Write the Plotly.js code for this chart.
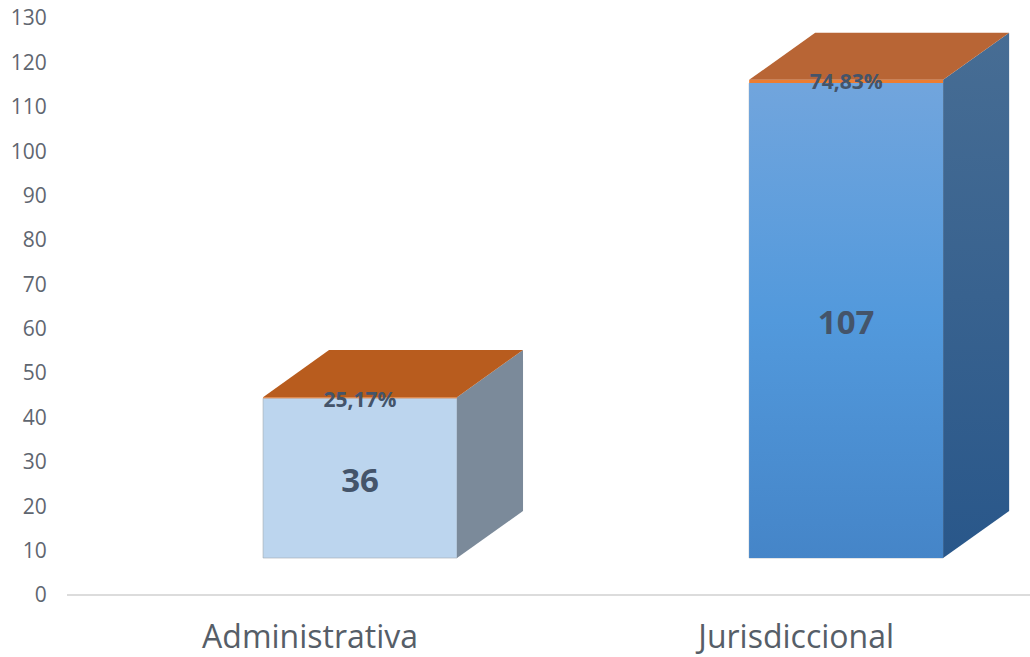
<!DOCTYPE html>
<html><head><meta charset="utf-8">
<script src="https://cdn.plot.ly/plotly-3.0.1.min.js"></script>
<style>html,body{margin:0;padding:0;background:#fff}#c{width:1030px;height:657px}</style>
</head><body><div id="c"></div>
<script>
const categories = ["Administrativa", "Jurisdiccional"];
const counts = [36, 107];
const percents = [25.17, 74.83];
const yTicks = [0,10,20,30,40,50,60,70,80,90,100,110,120,130];

const floor = 8.33, depthX = 0.1358, depthY = 10.6, barLeft = -0.0967, barWidth = 0.399;
const frontColors = ["#bcd5ee", "#5a9bdc"];
const frontGrad = [null, [[0,"#4585c8"],[0.5,"#5299dc"],[1,"#71a5dd"]]];
const sideGrad = [[[0,"#7b8a9a"],[1,"#7b8a9a"]], [[0,"#29578a"],[1,"#476d94"]]];
const topColors = ["#b85c1e", "#b86535"];
const stripColor = "#ed7d31", labelColor = "#44546a";

const pos = categories.map((_, i) => i);
const tops = counts.map((v, i) => floor + v + percents[i] / 100);
const traces = [];

// Front faces and the thin percentage strip on top of them
traces.push({type:"bar", x:pos, y:counts, base:counts.map(()=>floor), width:barWidth, offset:barLeft,
  marker:{color:frontColors, line:{color:"#a0a8b0", width:0.6}}, hoverinfo:"skip", name:"Cantidad"});
traces.push({type:"bar", x:pos, y:percents.map(p=>p/100), base:counts.map(v=>floor+v), width:barWidth, offset:barLeft,
  marker:{color:stripColor, line:{width:0}}, hoverinfo:"skip", name:"Porcentaje"});

pos.forEach(i => {
  const l = i + barLeft, r = l + barWidth, t = tops[i];
  if (frontGrad[i]) {
    traces.push({type:"scatter", mode:"lines", x:[l,r,r,l,l], y:[floor,floor,t-percents[i]/100,t-percents[i]/100,floor],
      fill:"toself", line:{width:0}, fillgradient:{type:"vertical", colorscale:frontGrad[i]}, hoverinfo:"skip"});
  }
  // right side face
  traces.push({type:"scatter", mode:"lines",
    x:[r, r+depthX, r+depthX, r, r], y:[floor, floor+depthY, t+depthY, t, floor],
    fill:"toself", line:{width:0}, fillgradient:{type:"vertical", colorscale:sideGrad[i]}, hoverinfo:"skip"});
  // top face
  traces.push({type:"scatter", mode:"lines",
    x:[l, r, r+depthX, l+depthX, l], y:[t, t, t+depthY, t+depthY, t],
    fill:"toself", fillcolor:topColors[i], line:{width:0}, hoverinfo:"skip"});
});

// Value labels
const centers = pos.map(i => i + barLeft + barWidth / 2);
traces.push({type:"scatter", mode:"text", x:centers, y:counts.map(v => floor + v/2 - 1.2),
  text:counts.map(String), textposition:"middle center",
  textfont:{family:"Open Sans", size:33, weight:700, color:labelColor}, hoverinfo:"skip"});
traces.push({type:"scatter", mode:"text", x:centers, y:tops.map(t => t - 1.0),
  text:percents.map(p => p.toFixed(2).replace(".", ",") + "%"), textposition:"middle center",
  textfont:{family:"Open Sans", size:21, weight:700, color:labelColor}, hoverinfo:"skip"});

const layout = {
  width:1030, height:657, showlegend:false, barmode:"overlay",
  paper_bgcolor:"#fff", plot_bgcolor:"#fff",
  margin:{l:67, r:0, t:18, b:62, pad:0},
  xaxis:{range:[-0.5,1.481], tickmode:"array", tickvals:pos, ticktext:categories, showgrid:false, zeroline:false,
    showline:false, ticks:"outside", ticklen:14, tickcolor:"rgba(0,0,0,0)",
    tickfont:{family:"Open Sans", size:32, color:"#565e68"}},
  yaxis:{range:[0,130], tickmode:"array", tickvals:yTicks, showgrid:false, zeroline:true, zerolinecolor:"#dcdcdc", zerolinewidth:2,
    showline:false, ticks:"outside", ticklen:15, tickcolor:"rgba(0,0,0,0)",
    tickfont:{family:"Open Sans", size:21, color:"#5f6670"}}
};
Plotly.newPlot("c", traces, layout, {displayModeBar:false, staticPlot:true});
</script></body></html>
